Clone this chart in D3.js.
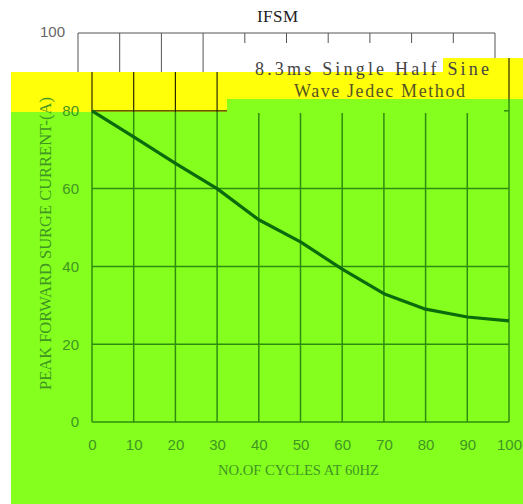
<!DOCTYPE html>
<html>
<head>
<meta charset="utf-8">
<script src="https://cdn.jsdelivr.net/npm/d3@7/dist/d3.min.js"></script>
<style>
  body { margin: 0; background: #fff; }
  svg { display: block; }
</style>
</head>
<body>
<div id="chart"></div>
<script>
// datos
const cycles = [0, 10, 20, 30, 40, 50, 60, 70, 80, 90, 100];
const ifsm = [80, 73.3, 66.5, 60, 52, 46.3, 39.3, 33, 29, 27, 26];
const yTicks = [0, 20, 40, 60, 80];
const title = "IFSM";
const noteLines = ["8.3ms Single Half Sine", "Wave Jedec Method"];
const xTitle = "NO.OF CYCLES AT 60HZ";
const yTitle = "PEAK FORWARD SURGE CURRENT-(A)";

const W = 523, H = 504;
const svg = d3.select("#chart").append("svg")
  .attr("width", W).attr("height", H);

// escalas del grafico principal
const x = d3.scaleLinear().domain([0, 100]).range([92, 509]);
const y = d3.scaleLinear().domain([0, 100]).range([422, 33]);
// copia desplazada en la parte blanca de arriba
const xTop = d3.scaleLinear().domain([0, 100]).range([78, 495]);

const serif = "'Liberation Serif', 'DejaVu Serif', serif";
const gridGreen = "#2f8c10";

// parte blanca superior (rejilla desplazada)
const topGrid = svg.append("g").attr("stroke", "#555").attr("stroke-width", 1);
topGrid.append("line")
  .attr("x1", xTop(0)).attr("x2", xTop(100))
  .attr("y1", y(100)).attr("y2", y(100));
topGrid.selectAll(".vt")
  .data(cycles)
  .enter().append("line")
  .attr("x1", d => xTop(d)).attr("x2", d => xTop(d))
  .attr("y1", y(100))
  .attr("y2", d => d <= 30 ? 72 : (d == 100 ? 58 : 43));
svg.append("text")
  .attr("x", xTop(0) - 13).attr("y", y(100))
  .attr("text-anchor", "end").attr("dominant-baseline", "middle")
  .attr("font-family", "'Liberation Sans', Arial, sans-serif")
  .attr("font-size", 15).attr("fill", "#666")
  .text("100");

// bandas de color
svg.append("rect").attr("x", 11).attr("y", 72).attr("width", W - 11).attr("height", 40).attr("fill", "#ffff0a");
svg.append("rect").attr("x", 443).attr("y", 58).attr("width", W - 443).attr("height", 14).attr("fill", "#ffff0a");
svg.append("rect").attr("x", 11).attr("y", 112).attr("width", W - 11).attr("height", H - 112).attr("fill", "#85ff1e");
svg.append("rect").attr("x", 227).attr("y", 99).attr("width", W - 227).attr("height", 13).attr("fill", "#85ff1e");

// rejilla en la banda amarilla
const dark = svg.append("g").attr("stroke", "#2a2a00").attr("stroke-width", 1.2);
dark.selectAll(".vy")
  .data(cycles.filter(d => d <= 30))
  .enter().append("line")
  .attr("x1", d => x(d)).attr("x2", d => x(d))
  .attr("y1", 72).attr("y2", 112);
dark.append("line")
  .attr("x1", x(100)).attr("x2", x(100))
  .attr("y1", 58).attr("y2", 99);
dark.append("line")
  .attr("x1", x(0)).attr("x2", 227)
  .attr("y1", y(80)).attr("y2", y(80));

// rejilla en la zona verde
const grid = svg.append("g").attr("stroke", gridGreen).attr("stroke-width", 1.5);
grid.selectAll(".vg")
  .data(cycles)
  .enter().append("line")
  .attr("x1", d => x(d)).attr("x2", d => x(d))
  .attr("y1", d => (d <= 30 || d == 100) ? 112 : 113)
  .attr("y2", y(0));
grid.append("line")
  .attr("x1", x(100)).attr("x2", x(100))
  .attr("y1", 99).attr("y2", 112);
grid.selectAll(".hg")
  .data(yTicks.filter(d => d < 80))
  .enter().append("line")
  .attr("x1", x(0)).attr("x2", x(100))
  .attr("y1", d => y(d)).attr("y2", d => y(d));
grid.append("line")
  .attr("x1", x(100) - 5).attr("x2", x(100))
  .attr("y1", y(80)).attr("y2", y(80));

// curva
const line = d3.line()
  .x((d, i) => x(cycles[i]))
  .y(d => y(d));
svg.append("path")
  .datum(ifsm)
  .attr("fill", "none")
  .attr("stroke", "#0b6a0b")
  .attr("stroke-width", 3.2)
  .attr("stroke-linejoin", "round")
  .attr("d", line);

// ejes (solo etiquetas)
const xAxis = svg.append("g")
  .attr("transform", `translate(0, 445)`)
  .call(d3.axisBottom(x).tickValues(cycles).tickSize(0).tickPadding(0));
xAxis.select(".domain").remove();
xAxis.selectAll("text")
  .attr("dy", "0.35em")
  .attr("font-family", "'Liberation Sans', Arial, sans-serif")
  .attr("font-size", 15).attr("fill", "#3f9622");

const yAxis = svg.append("g")
  .attr("transform", `translate(79, 0)`)
  .call(d3.axisLeft(y).tickValues(yTicks).tickSize(0).tickPadding(0));
yAxis.select(".domain").remove();
yAxis.selectAll("text")
  .attr("font-family", "'Liberation Sans', Arial, sans-serif")
  .attr("font-size", 15).attr("fill", "#3f9622");

// textos
svg.append("text")
  .attr("x", 257).attr("y", 22)
  .attr("font-family", serif).attr("font-size", 17)
  .attr("textLength", 41).attr("lengthAdjust", "spacing")
  .attr("fill", "#222")
  .text(title);

svg.append("text")
  .attr("x", 255).attr("y", 75)
  .attr("font-family", serif).attr("font-size", 18)
  .attr("textLength", 234).attr("lengthAdjust", "spacing")
  .attr("fill", "#444")
  .text(noteLines[0]);
svg.append("text")
  .attr("x", 294).attr("y", 97)
  .attr("font-family", serif).attr("font-size", 18)
  .attr("textLength", 171).attr("lengthAdjust", "spacing")
  .attr("fill", "#555522")
  .text(noteLines[1]);

svg.append("text")
  .attr("x", 218).attr("y", 475)
  .attr("font-family", serif).attr("font-size", 15)
  .attr("textLength", 161).attr("lengthAdjust", "spacingAndGlyphs")
  .attr("fill", "#3f9622")
  .text(xTitle);

svg.append("text")
  .attr("transform", "translate(51, 390) rotate(-90)")
  .attr("font-family", serif).attr("font-size", 16)
  .attr("textLength", 293).attr("lengthAdjust", "spacingAndGlyphs")
  .attr("fill", "#3f9622")
  .text(yTitle);
</script>
</body>
</html>
